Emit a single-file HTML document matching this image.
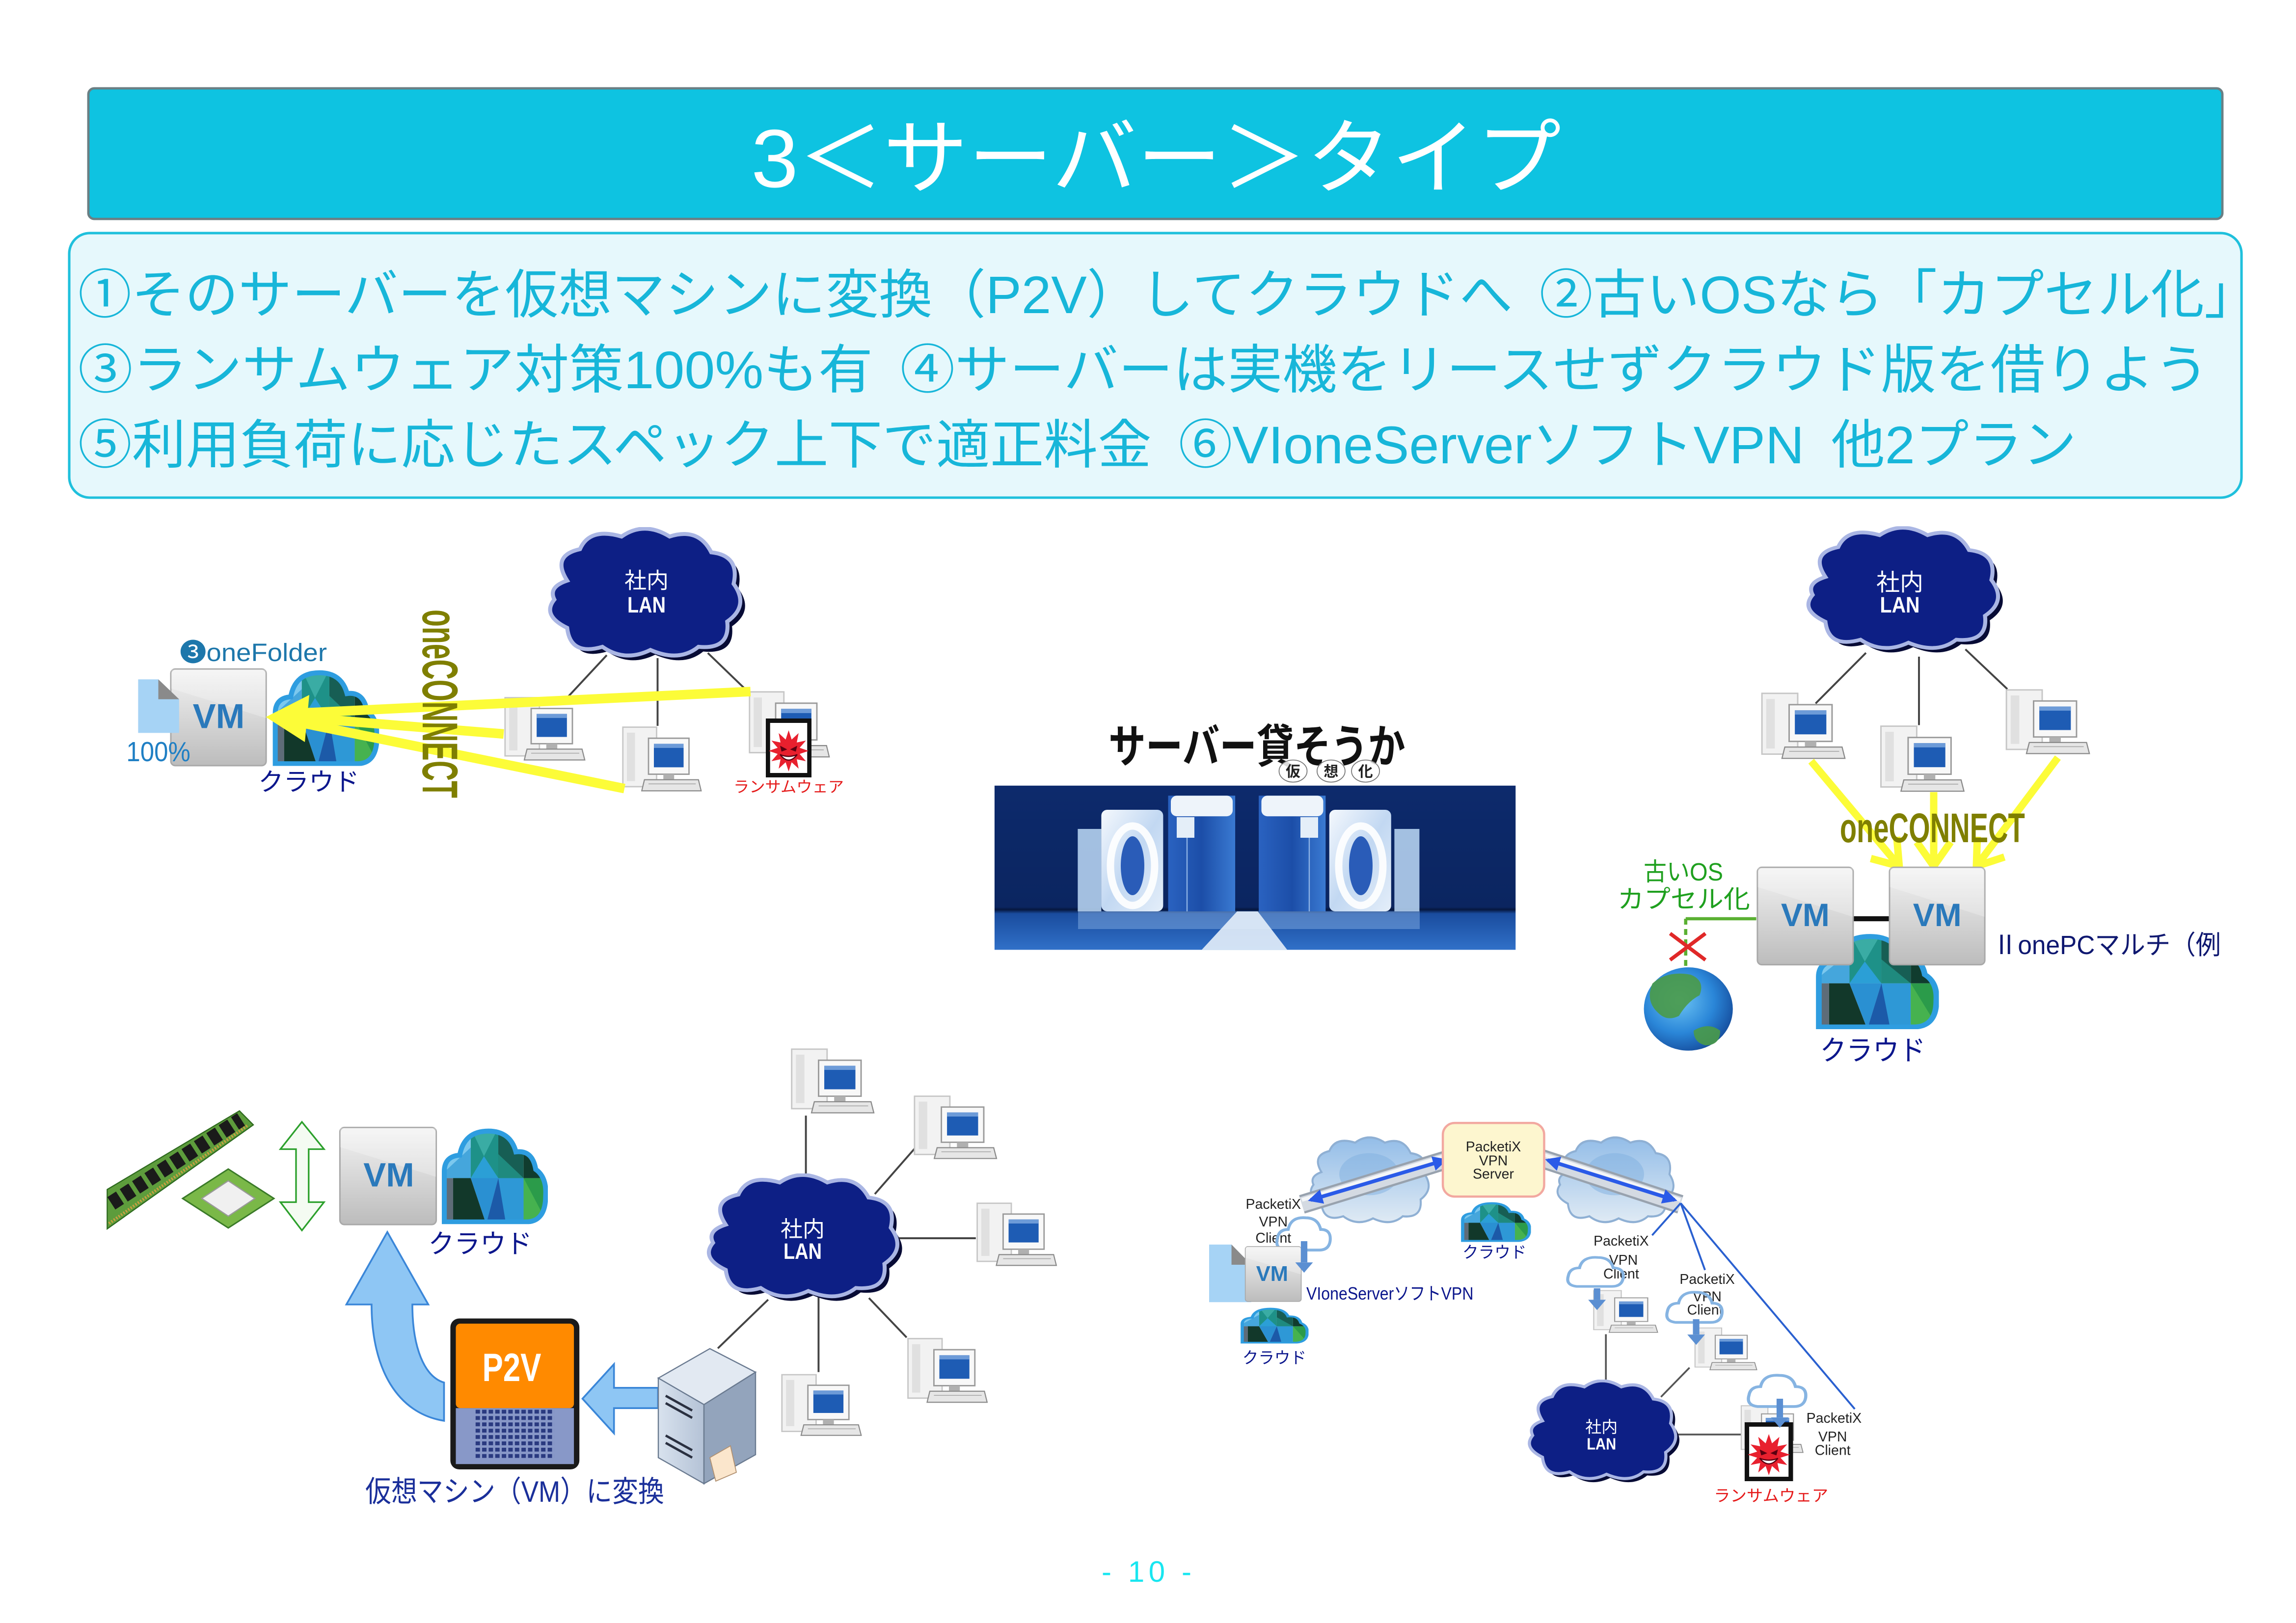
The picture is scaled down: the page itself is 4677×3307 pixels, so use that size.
<!DOCTYPE html>
<html><head><meta charset="utf-8">
<style>
html,body{margin:0;padding:0;background:#fff;}
svg{display:block;}
text{font-family:"Liberation Sans","Noto Sans CJK JP","DejaVu Sans",sans-serif;}
.jp{font-family:"Liberation Sans","Noto Sans CJK JP",sans-serif;}
.pk{font-family:"Liberation Sans",sans-serif;font-size:9.5px;fill:#222;text-anchor:middle;}
.vmt{font-family:"Liberation Sans",sans-serif;font-weight:bold;fill:#2a79bb;text-anchor:middle;}
.lanj{fill:#fff;text-anchor:middle;font-family:"Noto Sans CJK JP",sans-serif;}
.lane{fill:#fff;text-anchor:middle;font-family:"Liberation Sans",sans-serif;font-weight:bold;}
</style></head><body>
<svg xmlns="http://www.w3.org/2000/svg" width="4677" height="3307" viewBox="0 0 1559 1102.333">
<defs>
 <linearGradient id="vmg" x1="0" y1="0" x2="0" y2="1">
  <stop offset="0" stop-color="#f3f3f3"/><stop offset="1" stop-color="#bcbcbc"/>
 </linearGradient>
 <symbol id="vm" viewBox="0 0 67 67" preserveAspectRatio="none">
  <rect x="0.8" y="0.8" width="65.4" height="65.4" rx="3" fill="url(#vmg)" stroke="#a9a9a9" stroke-width="1"/>
  <polygon points="1,1 66,1 66,34 1,14" fill="#ffffff" opacity="0.25"/>
 </symbol>
 <symbol id="lan" viewBox="9 4 127 86" preserveAspectRatio="none">
  <path transform="translate(3,3)" d="M22,38 Q12,22 30,18 Q36,4 56,10 Q70,0 86,10 Q104,4 112,20 Q130,22 126,40 Q136,54 122,64 Q124,82 104,80 Q92,90 74,82 Q58,90 44,80 Q24,86 22,68 Q6,60 14,50 Q10,42 22,38 Z" fill="#070b35"/>
  <path d="M22,38 Q12,22 30,18 Q36,4 56,10 Q70,0 86,10 Q104,4 112,20 Q130,22 126,40 Q136,54 122,64 Q124,82 104,80 Q92,90 74,82 Q58,90 44,80 Q24,86 22,68 Q6,60 14,50 Q10,42 22,38 Z" fill="#0d1f85" stroke="#aab6e4" stroke-width="2.5"/>
 </symbol>
 <linearGradient id="skyg" x1="0" y1="0" x2="0" y2="1">
  <stop offset="0" stop-color="#93bde8"/><stop offset="1" stop-color="#dfeaf4"/>
 </linearGradient>
 <symbol id="scloud" viewBox="9 4 124 84" preserveAspectRatio="none">
  <path d="M22,38 Q12,22 30,18 Q36,4 56,10 Q70,0 86,10 Q104,4 112,20 Q130,22 126,40 Q136,54 122,64 Q124,82 104,80 Q92,90 74,82 Q58,90 44,80 Q24,86 22,68 Q6,60 14,50 Q10,42 22,38 Z" fill="url(#skyg)" stroke="#8fb0d4" stroke-width="2"/>
  <ellipse cx="70" cy="40" rx="30" ry="20" fill="#7fb0e0" opacity="0.5"/>
 </symbol>
 <clipPath id="vcc"><path d="M6,86 L6,40 Q6,26 20,25 Q24,3 46,3 Q66,3 71,22 Q86,20 89,38 Q99,45 98,62 Q98,86 80,86 Z"/></clipPath>
 <symbol id="vcloud" viewBox="0 0 100 88" preserveAspectRatio="none">
  <g clip-path="url(#vcc)">
   <rect x="0" y="0" width="30" height="46" fill="#7cc8ee"/>
   <polygon points="0,46 30,18 30,46" fill="#45a6dc"/>
   <rect x="30" y="0" width="25" height="46" fill="#1e9188"/>
   <polygon points="30,0 55,0 42,26" fill="#3aaca4"/>
   <polygon points="30,46 42,26 55,46" fill="#2b9fd6"/>
   <rect x="55" y="0" width="23" height="46" fill="#175e54"/>
   <polygon points="55,24 78,46 55,46" fill="#1f8a7e"/>
   <rect x="78" y="0" width="22" height="46" fill="#103c2e"/>
   <rect x="0" y="46" width="14" height="42" fill="#5e6c78"/>
   <polygon points="14,46 30,46 44,88 14,88" fill="#12382a"/>
   <polygon points="30,46 55,46 44,88" fill="#2a90d2"/>
   <polygon points="55,46 78,46 78,88 44,88" fill="#2e98d6"/>
   <polygon points="55,46 44,88 62,88" fill="#1c5aa8"/>
   <rect x="78" y="46" width="22" height="42" fill="#2b9b4a"/>
   <polygon points="78,46 100,88 78,88" fill="#46b24f"/>
  </g>
  <path d="M6,86 L6,40 Q6,26 20,25 Q24,3 46,3 Q66,3 71,22 Q86,20 89,38 Q99,45 98,62 Q98,86 80,86 Z" fill="none" stroke="#2e9de0" stroke-width="4.5"/>
 </symbol>
 <symbol id="pc" viewBox="0 0 60 50" preserveAspectRatio="none">
  <rect x="1" y="2" width="25" height="43" fill="#f2f2f2" stroke="#c6c6c6" stroke-width="1"/>
  <rect x="4" y="6" width="6" height="35" fill="#e0e0e0"/>
  <rect x="20" y="10" width="30" height="26" fill="#f8f8f8" stroke="#9a9a9a" stroke-width="1"/>
  <rect x="24" y="14" width="22" height="17" fill="#1e5cb4"/>
  <rect x="24" y="14" width="22" height="3" fill="#6d9bd8"/>
  <rect x="31" y="36" width="8" height="4" fill="#b0b0b0"/>
  <polygon points="17,40 57,40 59,48 15,48" fill="#e6e6e6" stroke="#8a8a8a" stroke-width="0.8"/>
  <line x1="20" y1="43" x2="55" y2="43" stroke="#aaa" stroke-width="0.6"/>
 </symbol>
 <symbol id="ransom" viewBox="0 0 32 40" preserveAspectRatio="none">
  <rect x="1.5" y="1.5" width="29" height="37" fill="#fff" stroke="#111" stroke-width="3"/>
  <polygon points="16,8 18.1,14.3 23,9.9 21.7,16.3 28.1,15 23.7,19.9 30,22 23.7,24.1 28.1,29 21.7,27.7 23,34.1 18.1,29.7 16,36 13.9,29.7 9,34.1 10.3,27.7 3.9,29 8.3,24.1 2,22 8.3,19.9 3.9,15 10.3,16.3 9,9.9 13.9,14.3" fill="#e8202e"/>
  <polygon points="10,18.5 15,21 11,22.5" fill="#5a0010"/>
  <polygon points="22,18.5 17,21 21,22.5" fill="#5a0010"/>
  <path d="M10,24.5 Q16,32 22,24.5 Q16,27 10,24.5 Z" fill="#fff" stroke="#5a0010" stroke-width="0.8"/>
 </symbol>
 <symbol id="dcloud" viewBox="0 0 44 30" preserveAspectRatio="none">
  <path d="M9,28 Q1,27 3,19 Q4,12 11,12 Q13,2 24,3 Q33,3 35,12 Q43,12 42,21 Q41,28 34,28 Z" fill="none" stroke="#86b4e2" stroke-width="2.2"/>
 </symbol>
 <marker id="bh" viewBox="0 0 10 10" refX="8" refY="5" markerWidth="4" markerHeight="4" orient="auto-start-reverse">
  <path d="M0,0 L10,5 L0,10 z" fill="#2a5ae8"/>
 </marker>
 <pattern id="grid" patternUnits="userSpaceOnUse" x="322.9" y="957.5" width="4.45" height="4.3">
  <rect x="0" y="0" width="3" height="2.6" fill="#2a3a80"/>
 </pattern>
 <linearGradient id="bgS" x1="0" y1="0" x2="0" y2="1">
  <stop offset="0" stop-color="#0d2a6c"/><stop offset="0.74" stop-color="#0b2560"/><stop offset="0.755" stop-color="#06163e"/><stop offset="0.78" stop-color="#1a4c9e"/><stop offset="1" stop-color="#3070c8"/>
 </linearGradient>
 <linearGradient id="towG" x1="0" y1="0" x2="1" y2="0">
  <stop offset="0" stop-color="#2a62c0"/><stop offset="0.5" stop-color="#1c4ea8"/><stop offset="1" stop-color="#3a7ad2"/>
 </linearGradient>
 <linearGradient id="glassG" x1="0" y1="0" x2="1" y2="1">
  <stop offset="0" stop-color="#f4f8fd"/><stop offset="0.5" stop-color="#c2d8f2"/><stop offset="1" stop-color="#e4eef9"/>
 </linearGradient>
 <radialGradient id="globeG" cx="0.4" cy="0.4" r="0.65">
  <stop offset="0" stop-color="#6cc4f4"/><stop offset="0.6" stop-color="#2a86d8"/><stop offset="1" stop-color="#164e9e"/>
 </radialGradient>
 <linearGradient id="srvF" x1="0" y1="0" x2="1" y2="0">
  <stop offset="0" stop-color="#d8e2ee"/><stop offset="1" stop-color="#b4c2d6"/>
 </linearGradient>
</defs>

<!-- Title bar -->
<rect x="60" y="60" width="1449" height="88.7" rx="4" fill="#0ec3e1" stroke="#6a7f84" stroke-width="1.6"/>
<text x="510" y="127" font-size="56" fill="#ffffff" textLength="550" lengthAdjust="spacingAndGlyphs" class="jp">3＜サーバー＞タイプ</text>

<!-- Text box -->
<rect x="47" y="158.3" width="1475" height="179.7" rx="14" fill="#e6f8fc" stroke="#1fc0dc" stroke-width="1.7"/>
<g class="jp" font-size="36" fill="#17b6d9">
 <text x="53" y="212.7" textLength="1480" lengthAdjust="spacingAndGlyphs">①そのサーバーを仮想マシンに変換（P2V）してクラウドへ&#x2002;②古いOSなら「カプセル化」</text>
 <text x="53" y="263.7" textLength="1447" lengthAdjust="spacingAndGlyphs">③ランサムウェア対策100%も有&#x2002;④サーバーは実機をリースせずクラウド版を借りよう</text>
 <text x="53" y="314.7" textLength="1357" lengthAdjust="spacingAndGlyphs">⑤利用負荷に応じたスペック上下で適正料金&#x2002;⑥VIoneServerソフトVPN&#x2002;他2プラン</text>
</g>

<!-- ===== Top-left diagram ===== -->
<use href="#vcloud" x="182.4" y="454.7" width="75" height="65.5"/>
<use href="#vm" x="115.2" y="453.6" width="66.3" height="67.2"/>
<text x="148.5" y="494.5" font-size="23.5" class="vmt">VM</text>
<polygon points="93.8,461.4 107.5,461.4 121.6,474.9 121.6,497.8 93.8,497.8" fill="#a6d3f5"/>
<polygon points="107.5,461.4 107.5,474.9 121.6,474.9" fill="#8a8a8a"/>
<g stroke="#444" stroke-width="1.3">
 <line x1="412" y1="445" x2="385" y2="474"/>
 <line x1="446.5" y1="447" x2="446.5" y2="493"/>
 <line x1="480.6" y1="443.5" x2="506" y2="468"/>
</g>
<use href="#lan" x="371" y="358" width="138" height="92"/>
<text x="439" y="399.5" font-size="15" class="lanj">社内</text>
<text x="439" y="416" font-size="15" class="lane" textLength="26" lengthAdjust="spacingAndGlyphs">LAN</text>
<use href="#pc" x="342" y="472" width="56" height="46"/>
<use href="#pc" x="422" y="492" width="55" height="47"/>
<use href="#pc" x="508" y="468" width="56" height="48"/>
<use href="#ransom" x="520" y="488" width="31" height="40"/>
<text x="498" y="538" font-size="10.5" fill="#e51a1a" textLength="75" lengthAdjust="spacingAndGlyphs" class="jp">ランサムウェア</text>
<g stroke="#fcfc38" stroke-width="6.5">
 <line x1="509.6" y1="469.7" x2="200" y2="484.5"/>
 <line x1="342" y1="498.5" x2="200" y2="487"/>
 <line x1="424" y1="535.6" x2="200" y2="490"/>
</g>
<polygon points="180.5,487 210,472 207,504" fill="#fcfc38"/>
<text x="122" y="449" font-size="17" fill="#1d77ab" textLength="100" lengthAdjust="spacingAndGlyphs">❸oneFolder</text>
<text x="85.8" y="517" font-size="19" fill="#1f7fc4" textLength="43.5" lengthAdjust="spacingAndGlyphs">100%</text>
<text x="175.4" y="537" font-size="17" fill="#0b168c" textLength="68.6" lengthAdjust="spacingAndGlyphs" class="jp">クラウド</text>
<text transform="translate(287,414) rotate(90)" x="0" y="0" font-size="34" font-weight="bold" fill="#7f7f00" textLength="128" lengthAdjust="spacingAndGlyphs">oneCONNECT</text>

<!-- ===== Center ===== -->
<text x="752.7" y="518" font-size="31" font-weight="bold" fill="#111" textLength="201.5" lengthAdjust="spacingAndGlyphs" class="jp">サーバー貸そうか</text>
<g font-size="10" font-weight="bold" fill="#222" text-anchor="middle" class="jp">
 <ellipse cx="878" cy="523.7" rx="9.5" ry="7.5" fill="#fff" fill-opacity="0.85" stroke="#777" stroke-width="0.6"/>
 <ellipse cx="903.8" cy="523.7" rx="9.5" ry="7.5" fill="#fff" fill-opacity="0.85" stroke="#777" stroke-width="0.6"/>
 <ellipse cx="927.2" cy="523.7" rx="9.5" ry="7.5" fill="#fff" fill-opacity="0.85" stroke="#777" stroke-width="0.6"/>
 <text x="878" y="527.5">仮</text>
 <text x="903.8" y="527.5">想</text>
 <text x="927.2" y="527.5">化</text>
</g>
<rect x="675.3" y="533.6" width="353.8" height="111.5" fill="url(#bgS)"/>
<rect x="731.8" y="563" width="16" height="56" fill="#b4d0ee" opacity="0.9"/>
<rect x="747.8" y="550" width="42" height="69" rx="4" fill="url(#glassG)"/>
<ellipse cx="769" cy="588" rx="15" ry="27" fill="none" stroke="#ffffff" stroke-width="5" opacity="0.9"/>
<ellipse cx="769" cy="588" rx="8" ry="20" fill="#2a5cb8"/>
<rect x="793.2" y="540.4" width="45.5" height="78.6" fill="url(#towG)"/>
<rect x="795" y="540.4" width="42" height="14" rx="4" fill="#eef4fa"/>
<rect x="799" y="555" width="12" height="14" fill="#e4eef8"/>
<line x1="806" y1="569" x2="806" y2="619" stroke="#8fb4e6" stroke-width="0.8"/>
<rect x="854.7" y="540.4" width="45.4" height="78.6" fill="url(#towG)"/>
<rect x="856.5" y="540.4" width="42" height="14" rx="4" fill="#eef4fa"/>
<rect x="883" y="555" width="12" height="14" fill="#e4eef8"/>
<line x1="889" y1="569" x2="889" y2="619" stroke="#8fb4e6" stroke-width="0.8"/>
<rect x="902.6" y="550" width="42" height="69" rx="4" fill="url(#glassG)"/>
<ellipse cx="924" cy="588" rx="15" ry="27" fill="none" stroke="#ffffff" stroke-width="5" opacity="0.9"/>
<ellipse cx="924" cy="588" rx="8" ry="20" fill="#2a5cb8"/>
<rect x="946.8" y="563" width="17" height="56" fill="#b4d0ee" opacity="0.9"/>
<rect x="732" y="619" width="232" height="12" fill="#7aa6de" opacity="0.55"/>
<polygon points="840,619 854,619 874,645.1 816,645.1" fill="#e4eef9" opacity="0.9"/>

<!-- ===== Top-right diagram ===== -->
<g stroke="#444" stroke-width="1.3">
 <line x1="1267" y1="443.4" x2="1232.8" y2="477.8"/>
 <line x1="1303" y1="446" x2="1303" y2="492.5"/>
 <line x1="1334.5" y1="441" x2="1363" y2="468"/>
</g>
<use href="#lan" x="1225.4" y="357.4" width="137.6" height="87.2"/>
<text x="1290" y="401" font-size="16" class="lanj">社内</text>
<text x="1290" y="416" font-size="15" class="lane" textLength="27" lengthAdjust="spacingAndGlyphs">LAN</text>
<use href="#pc" x="1195.4" y="469" width="58.3" height="48"/>
<use href="#pc" x="1276.2" y="491.3" width="58.3" height="48"/>
<use href="#pc" x="1361.4" y="466.7" width="58.3" height="47"/>
<g stroke="#fcfc38" stroke-width="5" fill="none">
 <line x1="1229.8" y1="517" x2="1289.6" y2="588.3"/>
 <line x1="1313" y1="538" x2="1313" y2="588.3"/>
 <line x1="1397.3" y1="514.6" x2="1342" y2="588.3"/>
 <polyline points="1287.9,568.4 1289.6,588.3 1270.3,583.1"/>
 <polyline points="1324.5,571.9 1313,588.3 1301.5,571.9"/>
 <polyline points="1361,582.1 1342,588.3 1342.6,568.3"/>
</g>
<text x="1249.3" y="572" font-size="28" font-weight="bold" fill="#7f7f00" textLength="125.6" lengthAdjust="spacingAndGlyphs">oneCONNECT</text>
<use href="#vcloud" x="1229.8" y="633.8" width="86.7" height="65.2"/>
<line x1="1258" y1="624" x2="1283" y2="624" stroke="#111" stroke-width="3.4"/>
<use href="#vm" x="1192.5" y="588.3" width="66.6" height="67.7"/>
<use href="#vm" x="1282.2" y="588.3" width="66.3" height="67.7"/>
<text x="1225.8" y="629" font-size="22" class="vmt">VM</text>
<text x="1315.4" y="629" font-size="22" class="vmt">VM</text>
<text x="1116" y="598" font-size="17" fill="#1fa01f" textLength="54" lengthAdjust="spacingAndGlyphs" class="jp">古いOS</text>
<text x="1098.3" y="616.6" font-size="17" fill="#1fa01f" textLength="90" lengthAdjust="spacingAndGlyphs" class="jp">カプセル化</text>
<polyline points="1192.5,624 1144.6,624" fill="none" stroke="#5ab032" stroke-width="2.2"/>
<line x1="1144.6" y1="624" x2="1144.6" y2="657" stroke="#5ab032" stroke-width="2.2" stroke-dasharray="4 3"/>
<ellipse cx="1146.4" cy="685.3" rx="30.2" ry="28.3" fill="url(#globeG)"/>
<path d="M1122,668 Q1132,659 1148,662 Q1158,666 1154,676 Q1146,680 1140,690 Q1132,694 1126,688 Q1117,680 1122,668 Z" fill="#4a9a48" opacity="0.9"/>
<path d="M1150,700 Q1160,694 1168,700 Q1168,710 1158,710 Q1150,708 1150,700 Z" fill="#4a9a48" opacity="0.9"/>
<g stroke="#e02828" stroke-width="2.5">
 <line x1="1134" y1="634" x2="1158" y2="652"/>
 <line x1="1158" y1="634" x2="1134" y2="652"/>
</g>
<text x="1235.8" y="720" font-size="19" fill="#0b168c" textLength="71.7" lengthAdjust="spacingAndGlyphs" class="jp">クラウド</text>
<text x="1353" y="648" font-size="18" fill="#0f1870" textLength="155" lengthAdjust="spacingAndGlyphs" class="jp">ⅡonePCマルチ（例</text>

<!-- ===== Bottom-left diagram ===== -->
<polygon points="72.8,807.9 162.6,754.5 172,764 72.8,834.6" fill="#5d9c3c" stroke="#2e6a1e" stroke-width="0.8"/>
<line x1="75.6" y1="817.3" x2="163.7" y2="760.3" stroke="#1a1a1a" stroke-width="10" stroke-dasharray="7 3"/>
<line x1="74" y1="831" x2="168" y2="764.5" stroke="#c8a040" stroke-width="2" stroke-dasharray="1 1"/>
<polygon points="124,814 155,794 186,814 155,834" fill="#7ab848" stroke="#3a7a28" stroke-width="1"/>
<polygon points="137,814 155,802 173,814 155,826" fill="#f0f0f0" stroke="#999" stroke-width="0.8"/>
<polygon points="205,762 220,780.5 209.6,780.5 209.6,816.5 220,816.5 205,835.7 190.4,816.5 201,816.5 201,780.5 190.4,780.5" fill="#f4fbf2" stroke="#2ca02c" stroke-width="1.1"/>
<use href="#vcloud" x="297.2" y="766" width="74.8" height="65.4"/>
<use href="#vm" x="230" y="765" width="67" height="67.5"/>
<text x="264" y="805.8" font-size="23" class="vmt">VM</text>
<text x="290.8" y="851" font-size="18" fill="#0b168c" textLength="70.5" lengthAdjust="spacingAndGlyphs" class="jp">クラウド</text>
<path d="M263,836.8 L290.8,886 L280,886 C280,915 288,935 301.5,939 L301.5,965 C270,960 252.3,930 252.3,886 L235.2,886 Z" fill="#8ec6f4" stroke="#3a86d8" stroke-width="1.2"/>
<rect x="305.8" y="895.5" width="87.6" height="102.5" rx="6" fill="#1a1a1a"/>
<rect x="309.5" y="899" width="80.2" height="57.4" rx="3" fill="#ff8a00"/>
<rect x="309.5" y="956.4" width="80.2" height="38" fill="#8898c8"/>
<rect x="322.9" y="957.5" width="53.4" height="34.2" fill="url(#grid)"/>
<text x="347.5" y="938" font-size="27" font-weight="bold" fill="#fff" text-anchor="middle" textLength="40" lengthAdjust="spacingAndGlyphs">P2V</text>
<polygon points="395.5,950 416.9,926.5 416.9,942.6 446.8,942.6 446.8,956.4 416.9,956.4 416.9,973.5" fill="#8ec6f4" stroke="#3a86d8" stroke-width="1.2"/>
<g stroke="#444" stroke-width="1.3">
 <line x1="547.2" y1="757.7" x2="547.2" y2="800"/>
 <line x1="622" y1="779" x2="594" y2="811"/>
 <line x1="610" y1="841" x2="662.6" y2="841"/>
 <line x1="590" y1="881.6" x2="615.6" y2="908.4"/>
 <line x1="555.8" y1="880" x2="555.8" y2="931.9"/>
 <line x1="521.6" y1="882.7" x2="487.4" y2="915.8"/>
</g>
<use href="#lan" x="478.8" y="797" width="136.8" height="88"/>
<text x="545" y="840" font-size="15" class="lanj">社内</text>
<text x="545" y="855" font-size="15" class="lane" textLength="26" lengthAdjust="spacingAndGlyphs">LAN</text>
<use href="#pc" x="536.6" y="710.7" width="57.7" height="47"/>
<use href="#pc" x="620" y="742.7" width="57.6" height="46"/>
<use href="#pc" x="662.6" y="815.4" width="55.6" height="45.9"/>
<use href="#pc" x="615.6" y="907.3" width="55.6" height="47"/>
<use href="#pc" x="530" y="931.9" width="55.7" height="44.8"/>
<polygon points="447,936 482,916 513,932 478,954" fill="#e2e9f2" stroke="#6a7a90" stroke-width="0.8"/>
<polygon points="447,936 478,954 478,1007.7 447,990" fill="url(#srvF)" stroke="#6a7a90" stroke-width="0.8"/>
<polygon points="478,954 513,932 513,988 478,1007.7" fill="#93a4bc" stroke="#6a7a90" stroke-width="0.8"/>
<g stroke="#2a3040" stroke-width="1.6">
 <line x1="452" y1="948" x2="470" y2="958"/>
 <line x1="452" y1="953" x2="470" y2="963"/>
 <line x1="452" y1="975" x2="470" y2="985"/>
 <line x1="452" y1="980" x2="470" y2="990"/>
</g>
<polygon points="482,990 496,982 500,1000 486,1006" fill="#fbe6cc" stroke="#b09070" stroke-width="0.6"/>
<text x="248" y="1020" font-size="20" fill="#1a2f9a" textLength="203" lengthAdjust="spacingAndGlyphs" class="jp">仮想マシン（VM）に変換</text>

<!-- ===== Bottom-right diagram ===== -->
<use href="#scloud" x="888.5" y="771.8" width="83.5" height="60"/>
<use href="#scloud" x="1056" y="771.8" width="82.2" height="60"/>
<g stroke-linecap="butt">
 <line x1="884" y1="818" x2="988" y2="786" stroke="#98a2ae" stroke-width="13"/>
 <line x1="884" y1="818" x2="988" y2="786" stroke="#d4dae2" stroke-width="10"/>
 <line x1="884" y1="815" x2="988" y2="783" stroke="#f4f6f8" stroke-width="2.5"/>
 <line x1="1044" y1="786" x2="1141" y2="818" stroke="#98a2ae" stroke-width="13"/>
 <line x1="1044" y1="786" x2="1141" y2="818" stroke="#d4dae2" stroke-width="10"/>
 <line x1="1044" y1="783" x2="1141" y2="815" stroke="#f4f6f8" stroke-width="2.5"/>
</g>
<line x1="890" y1="815" x2="981" y2="788" stroke="#2a5ae8" stroke-width="2.5" marker-start="url(#bh)" marker-end="url(#bh)"/>
<line x1="1051" y1="788" x2="1137" y2="815" stroke="#2a5ae8" stroke-width="2.5" marker-start="url(#bh)" marker-end="url(#bh)"/>
<rect x="979.7" y="762.7" width="68.8" height="50" rx="8" fill="#fdf6cf" stroke="#f2a8a0" stroke-width="1.5"/>
<text x="1014" y="782" font-size="8.5" class="pk">PacketiX</text>
<text x="1014" y="791.5" font-size="8.5" class="pk">VPN</text>
<text x="1014" y="800.5" font-size="8.5" class="pk">Server</text>
<use href="#vcloud" x="990.2" y="816.3" width="49.3" height="27.2"/>
<text x="993" y="854.4" font-size="11" fill="#0b168c" textLength="43.5" lengthAdjust="spacingAndGlyphs" class="jp">クラウド</text>

<text x="864.6" y="821" class="pk">PacketiX</text>
<text x="864.6" y="833" class="pk">VPN</text>
<text x="864.6" y="844" class="pk">Client</text>
<use href="#dcloud" x="864.6" y="824.5" width="40.4" height="26.3"/>
<polygon points="821,845.3 836.2,845.3 849.6,859 849.6,884.4 821,884.4" fill="#a6d3f5"/>
<polygon points="836.2,845.3 836.2,859 849.6,859" fill="#8a8a8a"/>
<use href="#vm" x="845.1" y="846.2" width="38.9" height="38.2"/>
<text x="863.8" y="870" font-size="14.5" class="vmt">VM</text>
<rect x="883.3" y="843" width="4.4" height="14.4" fill="#5b8fd2"/>
<polygon points="879.5,857.4 891.5,857.4 885.5,864.4" fill="#5b8fd2"/>
<text x="887" y="882.6" font-size="12" fill="#0b168c" textLength="113.5" lengthAdjust="spacingAndGlyphs" class="jp">VIoneServerソフトVPN</text>
<use href="#vcloud" x="840.6" y="888" width="47.9" height="24.5"/>
<text x="843.6" y="926" font-size="11" fill="#0b168c" textLength="43.4" lengthAdjust="spacingAndGlyphs" class="jp">クラウド</text>

<g stroke="#2a60d0" stroke-width="1.3">
 <line x1="1141.2" y1="817.2" x2="1121.8" y2="839"/>
 <line x1="1141.2" y1="817.2" x2="1157.7" y2="862.6"/>
 <line x1="1141.2" y1="817.2" x2="1259.4" y2="957"/>
</g>
<g stroke="#555" stroke-width="1.2">
 <line x1="1090.4" y1="906.2" x2="1090.4" y2="940"/>
 <line x1="1147.2" y1="928.9" x2="1127.8" y2="948.8"/>
 <line x1="1138" y1="974.3" x2="1183.1" y2="974.3"/>
</g>
<use href="#pc" x="1081.4" y="875.3" width="44.9" height="30.9"/>
<use href="#pc" x="1150.2" y="900.7" width="43.4" height="30.9"/>
<use href="#pc" x="1181.6" y="953.4" width="43.4" height="34.5"/>
<use href="#lan" x="1036.5" y="937" width="106.2" height="70.9"/>
<text x="1087.4" y="973" font-size="11" class="lanj">社内</text>
<text x="1087.4" y="984.5" font-size="11" class="lane" textLength="20" lengthAdjust="spacingAndGlyphs">LAN</text>

<text x="1100.8" y="846" class="pk">PacketiX</text>
<text x="1102.3" y="859" class="pk">VPN</text>
<text x="1100.8" y="868.3" class="pk">Client</text>
<use href="#dcloud" x="1062" y="851.7" width="42" height="23.6"/>
<rect x="1082.2" y="875" width="4.4" height="7.8" fill="#5b8fd2"/>
<polygon points="1078.4,882.8 1090.4,882.8 1084.4,889.8" fill="#5b8fd2"/>

<text x="1159.2" y="872" class="pk">PacketiX</text>
<text x="1159.2" y="883.8" class="pk">VPN</text>
<text x="1157.7" y="892.8" class="pk">Client</text>
<use href="#dcloud" x="1129.3" y="875.3" width="41.8" height="24.5"/>
<rect x="1149.5" y="896" width="4.4" height="10.4" fill="#5b8fd2"/>
<polygon points="1145.7,906.4 1157.7,906.4 1151.7,913.4" fill="#5b8fd2"/>

<use href="#ransom" x="1184.6" y="966" width="32.9" height="40"/>
<use href="#dcloud" x="1184.6" y="931.6" width="43.4" height="25.4"/>
<rect x="1206.3" y="950" width="4.4" height="12.7" fill="#5b8fd2"/>
<polygon points="1202.5,962.7 1214.5,962.7 1208.5,969.7" fill="#5b8fd2"/>
<text x="1245.3" y="966.4" class="pk">PacketiX</text>
<text x="1244.4" y="979" class="pk">VPN</text>
<text x="1244.4" y="988.2" class="pk">Client</text>
<text x="1163.7" y="1019.7" font-size="11" fill="#e51a1a" textLength="77.7" lengthAdjust="spacingAndGlyphs" class="jp">ランサムウェア</text>

<!-- Page number -->
<text x="778.5" y="1074.3" font-size="20" fill="#18e6f0" text-anchor="middle" textLength="61" lengthAdjust="spacing">- 10 -</text>
</svg>
</body></html>
